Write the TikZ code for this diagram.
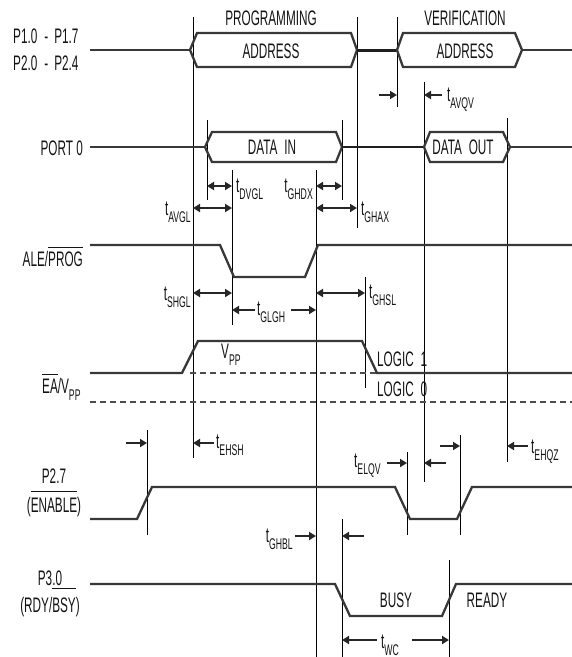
\documentclass[tikz,border=0pt]{standalone}
\usepackage{fontspec}
\setmainfont{Liberation Sans}[FakeStretch=0.56]
\usetikzlibrary{arrows.meta}
\newcommand\tsub[1]{t\raisebox{-7pt}{\fontsize{15.5}{15.5}\selectfont #1}}
\newcommand\ovl[2]{\setbox0\hbox{#2}\rlap{\raisebox{#1}{\rule{\wd0}{1.3pt}}}\box0}
\begin{document}
\begin{tikzpicture}[x=1pt,y=-1pt,
  sig/.style={line width=2.3pt, draw=black!78, line join=miter},
  vl/.style={line width=0.9pt, draw=black},
  dsh/.style={line width=2.2pt, draw=black!70, dash pattern=on 6pt off 4pt},
  lbl/.style={font=\fontsize{21}{23}\selectfont, text=black!92, inner sep=0pt},
  ar/.style={line width=1.8pt, draw=black!85, -{Triangle[length=7pt,width=8pt]}},
  dar/.style={line width=1.8pt, draw=black!85, {Triangle[length=7pt,width=8pt]}-{Triangle[length=7pt,width=8pt]}},
]
\useasboundingbox (0,0) rectangle (572,657);
\fill[white] (0,0) rectangle (572,657);

% ---------- vertical reference lines ----------
\draw[vl] (193,17) -- (193,458);
\draw[vl] (357,17) -- (357,228);
\draw[vl] (397,17) -- (397,107);
\draw[vl] (207,120) -- (207,200);
\draw[vl] (342,120) -- (342,200);
\draw[vl] (232,170) -- (232,325);
\draw[vl] (316,170) -- (316,657);
\draw[vl] (365,277) -- (365,388);
\draw[vl] (424,82) -- (424,482);
\draw[vl] (507,118) -- (507,462);
\draw[vl] (147,430) -- (147,535);
\draw[vl] (407,452) -- (407,535);
\draw[vl] (460,435) -- (460,535);
\draw[vl] (342,519) -- (342,657);
\draw[vl] (449,560) -- (449,657);

% ---------- address bus ----------
\draw[sig] (90,50) -- (190,50);
\draw[sig] (190,50) -- (197,33) -- (351,33) -- (357,50) -- (351,67) -- (197,67) -- cycle;
\draw[sig, line width=3pt, draw=black!88] (357,50) -- (397,50);
\draw[sig] (397,50) -- (403,33) -- (515,33) -- (522,50) -- (515,67) -- (403,67) -- cycle;
\draw[sig] (522,50) -- (572,50);

% ---------- port 0 ----------
\draw[sig] (90,147) -- (205,147);
\draw[sig] (205,147) -- (212,132) -- (336,132) -- (342,147) -- (336,162) -- (212,162) -- cycle;
\draw[sig, draw=black!88] (342,147) -- (424,147);
\draw[sig] (424,147) -- (430,132) -- (503,132) -- (510,147) -- (503,162) -- (430,162) -- cycle;
\draw[sig] (510,147) -- (572,147);

% ---------- ALE/PROG ----------
\draw[sig] (90,245) -- (220,245) -- (234,277) -- (305,277) -- (318,245) -- (572,245);

% ---------- EA/VPP ----------
\draw[dsh] (190,373) -- (377,373);
\draw[dsh] (90,402) -- (572,402);
\draw[sig] (90,373) -- (182,373) -- (198,341) -- (362,341) -- (377,373) -- (572,373);

% ---------- P2.7 ----------
\draw[sig] (90,519) -- (137,519) -- (152,487) -- (395,487) -- (410,519) -- (457,519) -- (472,487) -- (572,487);

% ---------- P3.0 ----------
\draw[sig] (90,584) -- (335,584) -- (350,616) -- (442,616) -- (456,584) -- (572,584);

% ---------- timing arrows ----------
\draw[ar] (379,95) -- (397,95);
\draw[ar] (442,95) -- (424,95);
\draw[dar] (207,186) -- (232,186);
\draw[dar] (316,186) -- (342,186);
\draw[dar] (193,208) -- (232,208);
\draw[dar] (316,208) -- (357,208);
\draw[dar] (193,293) -- (232,293);
\draw[ar] (255,310) -- (232,310);
\draw[ar] (291,310) -- (316,310);
\draw[dar] (316,293) -- (365,293);
\draw[ar] (126,443) -- (147,443);
\draw[ar] (214,443) -- (193,443);
\draw[ar] (387,463) -- (407,463);
\draw[ar] (446,463) -- (424,463);
\draw[ar] (440,446) -- (460,446);
\draw[ar] (528,446) -- (507,446);
\draw[ar] (295,536) -- (316,536);
\draw[ar] (364,536) -- (342,536);
\draw[ar] (377,640) -- (342,640);
\draw[ar] (412,640) -- (449,640);

% ---------- bus texts ----------
\node[lbl] (prog) at (271,18) {PROGRAMMING};
\node[lbl] (verif) at (465,18) {VERIFICATION};
\node[lbl] (addr1) at (271,51) {ADDRESS};
\node[lbl] (addr2) at (465,51) {ADDRESS};
\node[lbl] (din) at (272,147) {DATA\, IN};
\node[lbl] (dout) at (463,147) {DATA\, OUT};

% ---------- signal names ----------
\node[lbl, anchor=base west] (p1) at (13,43) {P1.0\hspace{7pt}-\hspace{6pt}P1.7};
\node[lbl, anchor=base west] (p2) at (13,70) {P2.0\hspace{7pt}-\hspace{6pt}P2.4};
\node[lbl, anchor=base east] (port0) at (83,155) {PORT 0};
\node[lbl, anchor=base east] (ale) at (83,266) {ALE/\ovl{18pt}{PROG}};
\node[lbl, anchor=base west] (ea) at (42,393) {\ovl{18pt}{EA}/V\raisebox{-7pt}{\fontsize{15.5}{15.5}\selectfont PP}};
\node[lbl, anchor=base] (p27) at (54,483) {P2.7};
\node[lbl, anchor=base] (enable) at (54,512) {(\ovl{20pt}{ENABLE})};
\node[lbl, anchor=base] (p30) at (50,585) {P3.0};
\node[lbl, anchor=base] (rdy) at (50,612) {(RDY/\ovl{23pt}{BSY})};

% ---------- level texts ----------
\node[lbl, anchor=base west] (vpp) at (221,358) {V\raisebox{-7pt}{\fontsize{15.5}{15.5}\selectfont PP}};
\node[lbl, anchor=west] (l1) at (377,359) {LOGIC\, 1};
\node[lbl, anchor=west] (l0) at (377,389) {LOGIC\, 0};
\node[lbl] (busy) at (396,600) {BUSY};
\node[lbl] (ready) at (487,600) {READY};

% ---------- timing labels ----------
\node[lbl, anchor=base west] (tavqv) at (447,101) {\tsub{AVQV}};
\node[lbl, anchor=base west] (tdvgl) at (236,192) {\tsub{DVGL}};
\node[lbl, anchor=base east] (tghdx) at (313,192) {\tsub{GHDX}};
\node[lbl, anchor=base east] (tavgl) at (191,215) {\tsub{AVGL}};
\node[lbl, anchor=base west] (tghax) at (361,215) {\tsub{GHAX}};
\node[lbl, anchor=base east] (tshgl) at (191,300) {\tsub{SHGL}};
\node[lbl, anchor=base west] (tglgh) at (257,315) {\tsub{GLGH}};
\node[lbl, anchor=base west] (tghsl) at (369,298) {\tsub{GHSL}};
\node[lbl, anchor=base west] (tehsh) at (216,448) {\tsub{EHSH}};
\node[lbl, anchor=base west] (telqv) at (354,467) {\tsub{ELQV}};
\node[lbl, anchor=base west] (tehqz) at (531,453) {\tsub{EHQZ}};
\node[lbl, anchor=base east] (tghbl) at (293,542) {\tsub{GHBL}};
\node[lbl, anchor=base west] (twc) at (381,648) {\tsub{WC}};
\end{tikzpicture}
\end{document}
